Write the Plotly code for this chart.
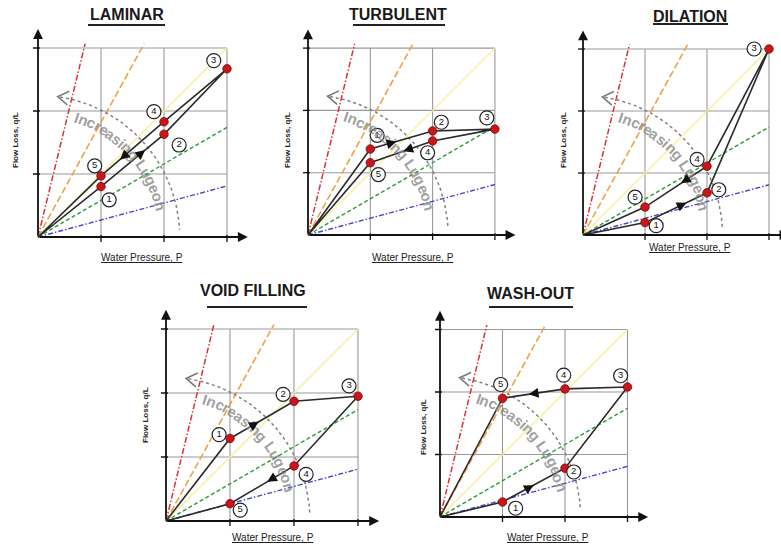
import math
import plotly.graph_objects as go

W, H = 781, 547

# ---------------- data ----------------
titles = ["LAMINAR", "TURBULENT", "DILATION", "VOID FILLING", "WASH-OUT"]
pressure = [1, 2, 3, 2, 1]                      # water pressure steps 1..5
laminar_q = [0.80, 1.63, 2.67, 1.83, 0.97]
turbulent_q = [1.38, 1.67, 1.70, 1.51, 1.16]
dilation_q = [0.20, 0.68, 3.00, 1.11, 0.45]
void_q = [1.29, 1.87, 1.95, 0.86, 0.27]
washout_q = [0.24, 0.78, 2.08, 2.05, 1.90]
flows = [laminar_q, turbulent_q, dilation_q, void_q, washout_q]
point_labels = ["1", "2", "3", "4", "5"]
grid_ticks = [1, 2, 3]
lugeon_slopes = [4.1, 1.82, 1.0, 0.58, 0.27]
lugeon_colors = ["#d8323a", "#f0a244", "#f3ef9c", "#2f9a3c", "#4646cc"]
lugeon_dash = ["6px,2px,1.5px,2px", "7px,3px", "solid", "4px,2.5px", "5px,2px,1.5px,2px"]
lugeon_width = [1.5, 1.6, 1.3, 1.4, 1.4]
arc_text = "Increasing Lugeon"
x_title = "Water Pressure, P"
y_title = "Flow Loss, q/L"

# ---------------- layout of panels (pixel geometry) ----------------
panels = [
    dict(ox=38, oy=237, u=63, t=(127, 14), ul=(88, 165, 25), xt=(142, 257), yt=(15, 140),
         off=[(0.13, -0.21), (0.24, -0.17), (-0.21, 0.13), (-0.16, 0.16), (-0.10, 0.16)],
         fr=(0.7, 0.7)),
    dict(ox=308, oy=235, u=62.3, t=(398, 14), ul=(353, 445, 25), xt=(413, 257), yt=(287, 140),
         off=[(0.11, 0.22), (0.14, 0.14), (-0.13, 0.18), (-0.08, -0.19), (0.13, -0.19)],
         fr=(0.42, 0.47)),
    dict(ox=583, oy=235, u=62, t=(690, 16), ul=(653, 728, 24), xt=(690, 247), yt=(563, 140),
         off=[(0.18, -0.05), (0.19, 0.05), (-0.24, 0.0), (-0.16, 0.11), (-0.16, 0.16)],
         fr=(0.67, 0.42)),
    dict(ox=166, oy=521, u=64, t=(253, 291), ul=(207, 307, 307), xt=(273, 537), yt=(145, 415),
         off=[(-0.17, 0.06), (-0.17, 0.11), (-0.14, 0.16), (0.19, -0.13), (0.16, -0.10)],
         fr=(0.45, 0.42)),
    dict(ox=440, oy=517, u=62.5, t=(530, 293.5), ul=(489, 573, 307), xt=(548, 537), yt=(423, 427),
         off=[(0.21, -0.10), (0.14, -0.06), (-0.11, 0.18), (-0.02, 0.22), (-0.03, 0.22)],
         fr=(0.5, 0.58)),
]

FONT = "Liberation Sans, Arial, sans-serif"
# approx. Arial-bold advance widths (em)
EM = {"I": .278, "n": .611, "c": .556, "r": .389, "e": .556, "a": .556, "s": .556,
      "i": .278, "g": .611, " ": .278, "L": .611, "u": .611, "o": .611}

fig = go.Figure()
layout = dict(width=W, height=H, margin=dict(l=0, r=0, t=0, b=0),
              paper_bgcolor="white", plot_bgcolor="rgba(0,0,0,0)", showlegend=False)
annotations = []
shapes = []


def px2paper(x, y):
    return x / W, 1 - y / H


for i, p in enumerate(panels):
    ox, oy, u = p["ox"], p["oy"], p["u"]
    sfx = "" if i == 0 else str(i + 1)
    xa, ya = "x" + sfx, "y" + sfx
    x_left = max(0, ox - 0.45 * u)
    x_right = min(W, ox + 3.45 * u)
    y_top = max(0, oy - 3.45 * u)
    y_bot = min(H, oy + 0.45 * u)
    layout["xaxis" + sfx] = dict(domain=[x_left / W, x_right / W],
                                 range=[(x_left - ox) / u, (x_right - ox) / u],
                                 visible=False, fixedrange=True, anchor=ya)
    layout["yaxis" + sfx] = dict(domain=[1 - y_bot / H, 1 - y_top / H],
                                 range=[-(y_bot - oy) / u, (oy - y_top) / u],
                                 visible=False, fixedrange=True, anchor=xa)

    # grid
    gx, gy = [], []
    for v in grid_ticks:
        gx += [v, v, None, 0, 3, None]
        gy += [0, 3, None, v, v, None]
    fig.add_trace(go.Scatter(x=gx, y=gy, mode="lines", xaxis=xa, yaxis=ya,
                             line=dict(color="#9a9a9a", width=1.1), hoverinfo="skip"))
    # ticks
    tx, ty = [], []
    for v in grid_ticks:
        tx += [v, v, None, 0.03, -0.08, None]
        ty += [0.03, -0.08, None, v, v, None]
    fig.add_trace(go.Scatter(x=tx, y=ty, mode="lines", xaxis=xa, yaxis=ya,
                             line=dict(color="#111", width=1.3), hoverinfo="skip"))

    # Lugeon rays
    for s, c, d, w in zip(lugeon_slopes, lugeon_colors, lugeon_dash, lugeon_width):
        xe = min(3.0, 3.07 / s)
        fig.add_trace(go.Scatter(x=[0, xe], y=[0, s * xe], mode="lines", xaxis=xa, yaxis=ya,
                                 line=dict(color=c, width=w, dash=d), hoverinfo="skip"))

    # arc "Increasing Lugeon"
    R = 2.25
    th = [math.radians(81 - k * (78 / 80)) for k in range(81)]
    fig.add_trace(go.Scatter(x=[R * math.cos(t) for t in th], y=[R * math.sin(t) for t in th],
                             mode="lines", xaxis=xa, yaxis=ya,
                             line=dict(color="#808080", width=1.5, dash="dot"), hoverinfo="skip"))
    t0 = math.radians(82)
    hx, hy = R * math.cos(t0), R * math.sin(t0)
    Tx, Ty = -math.sin(t0), math.cos(t0)
    Nx, Ny = math.cos(t0), math.sin(t0)
    fig.add_trace(go.Scatter(
        x=[hx - 0.17 * Tx + 0.11 * Nx, hx, hx - 0.17 * Tx - 0.11 * Nx],
        y=[hy - 0.17 * Ty + 0.11 * Ny, hy, hy - 0.17 * Ty - 0.11 * Ny],
        mode="lines", xaxis=xa, yaxis=ya, line=dict(color="#7a7a7a", width=1.6),
        hoverinfo="skip"))

    fs = 15
    rt = 2.0
    cum = 0.0
    start = math.radians(73)
    for ch in arc_text:
        w = EM.get(ch, 0.56) * fs / u
        ang = start - (cum + w / 2) / rt
        cum += w
        if ch == " ":
            continue
        annotations.append(dict(x=rt * math.cos(ang), y=rt * math.sin(ang), xref=xa, yref=ya,
                                text="<b>%s</b>" % ch, showarrow=False,
                                textangle=90 - math.degrees(ang),
                                font=dict(family=FONT, size=fs, color="rgba(135,135,135,0.8)"),
                                xanchor="center", yanchor="middle"))

    # loop path
    q = flows[i]
    fig.add_trace(go.Scatter(x=[0] + pressure + [0], y=[0] + q + [0], mode="lines",
                             xaxis=xa, yaxis=ya, line=dict(color="#2a2a2a", width=1.6),
                             hoverinfo="skip"))
    # direction arrows on 1->2 and 4->5
    for (a, b), f in zip([(0, 1), (3, 4)], p["fr"]):
        x1, y1, x2, y2 = pressure[a], q[a], pressure[b], q[b]
        L = math.hypot(x2 - x1, y2 - y1)
        mx, my = x1 + f * (x2 - x1), y1 + f * (y2 - y1)
        annotations.append(dict(x=mx, y=my, ax=mx - 0.12 * (x2 - x1) / L, ay=my - 0.12 * (y2 - y1) / L,
                                xref=xa, yref=ya, axref=xa, ayref=ya, text="", showarrow=True,
                                arrowhead=2, arrowsize=1.4, arrowwidth=1.4, arrowcolor="#111",
                                standoff=0))
    # points
    fig.add_trace(go.Scatter(x=pressure, y=q, mode="markers", xaxis=xa, yaxis=ya,
                             marker=dict(size=8.5, color="#c8161b", line=dict(color="#7a0a0a", width=0.8)),
                             hoverinfo="skip"))
    # circled labels
    lx = [pressure[k] + p["off"][k][0] for k in range(5)]
    ly = [q[k] + p["off"][k][1] for k in range(5)]
    fig.add_trace(go.Scatter(x=lx, y=ly, mode="markers+text", xaxis=xa, yaxis=ya,
                             text=point_labels, textposition="middle center",
                             textfont=dict(family=FONT, size=9.5, color="#111"),
                             marker=dict(size=14, color="white", line=dict(color="#222", width=1.2)),
                             hoverinfo="skip"))

    # axes with arrows
    for hx_, hy_ in [(0, 3.3), (3.33, 0)]:
        annotations.append(dict(x=hx_, y=hy_, ax=0, ay=0, xref=xa, yref=ya, axref=xa, ayref=ya,
                                text="", showarrow=True, arrowhead=2, arrowsize=1.1,
                                arrowwidth=1.8, arrowcolor="#111", standoff=0))

    # titles
    tx_, ty_ = px2paper(*p["t"])
    annotations.append(dict(x=tx_, y=ty_, xref="paper", yref="paper", showarrow=False,
                            text="<b>%s</b>" % titles[i], xanchor="center", yanchor="middle",
                            font=dict(family=FONT, size=16, color="#1a1a1a")))
    x0, x1, yl = p["ul"]
    shapes.append(dict(type="line", xref="paper", yref="paper", x0=x0 / W, x1=x1 / W,
                       y0=1 - yl / H, y1=1 - yl / H, line=dict(color="#222", width=1.8)))
    xtx, xty = px2paper(*p["xt"])
    annotations.append(dict(x=xtx, y=xty, xref="paper", yref="paper", showarrow=False,
                            text="<u>%s</u>" % x_title, xanchor="center", yanchor="middle",
                            font=dict(family=FONT, size=10, color="#222")))
    ytx, yty = px2paper(*p["yt"])
    annotations.append(dict(x=ytx, y=yty, xref="paper", yref="paper", showarrow=False,
                            text="<b>%s</b>" % y_title, textangle=-90, xanchor="center",
                            yanchor="middle", font=dict(family=FONT, size=8, color="#222")))

layout["annotations"] = annotations
layout["shapes"] = shapes
fig.update_layout(**layout)
fig.write_html("out.html")
